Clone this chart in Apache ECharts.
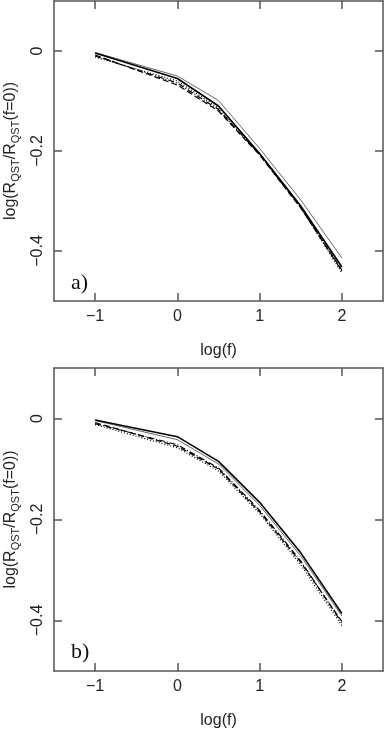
<!DOCTYPE html>
<html>
<head>
  <meta charset="UTF-8">
  <title>log R_QST vs log f</title>
  <script src="https://cdn.jsdelivr.net/npm/echarts@6/dist/echarts.min.js"></script>
  <style>
    html, body { margin: 0; padding: 0; background: #fff; }
  </style>
</head>
<body>
  <div id="chart" style="width: 386px;height:730px;"></div>
  <script type="text/javascript">
    // x positions: log(f)
    const logF = [-1, 0, 0.5, 1, 1.5, 2];
    const xTicks = [-1, 0, 1, 2];
    const yTicks = [-0.4, -0.2, 0];

    // panel a)
    const aThin    = [-0.003, -0.050, -0.099, -0.195, -0.298, -0.414];
    const aThick   = [-0.004, -0.055, -0.110, -0.205, -0.310, -0.432];
    const aDashed  = [-0.008, -0.068, -0.120, -0.208, -0.314, -0.438];
    const aDashDot = [-0.010, -0.064, -0.117, -0.207, -0.313, -0.440];
    const aDotted  = [-0.012, -0.060, -0.114, -0.206, -0.312, -0.444];

    // panel b)
    const bThick   = [-0.003, -0.036, -0.085, -0.166, -0.266, -0.386];
    const bThin    = [-0.004, -0.042, -0.090, -0.172, -0.272, -0.391];
    const bDashed  = [-0.008, -0.055, -0.100, -0.185, -0.285, -0.402];
    const bDashDot = [-0.010, -0.052, -0.098, -0.182, -0.282, -0.405];
    const bDotted  = [-0.012, -0.058, -0.104, -0.188, -0.290, -0.410];

    const font = 'Liberation Sans';
    const axisCol = '#555';
    const minus = v => v === 0 ? '0' : (v < 0 ? '\u2212' + Math.abs(v) : String(v));

    function xAx(grid, pos) {
      const main = pos === 'bottom';
      return {
        type: 'value', gridIndex: grid, position: pos, min: -1.5, max: 2.5,
        name: main ? 'log(f)' : '', nameLocation: 'middle', nameGap: 42,
        nameTextStyle: { fontFamily: font, fontSize: 16, color: '#222' },
        splitLine: { show: false },
        axisLine: { show: true, onZero: false, lineStyle: { color: axisCol, width: 1.5 } },
        axisTick: { show: true, inside: true, length: 8, customValues: xTicks, lineStyle: { color: axisCol, width: 1.5 } },
        axisLabel: { show: main, customValues: xTicks, margin: 8, formatter: minus,
          fontFamily: font, fontSize: 16, color: '#222' }
      };
    }
    function yAx(grid, pos) {
      const main = pos === 'left';
      return {
        type: 'value', gridIndex: grid, position: pos, min: -0.5, max: 0.1,
        name: main ? 'log(R{s|QST}/R{s|QST}(f=0))' : '', nameLocation: 'middle', nameGap: 33,
        nameRotate: 90,
        nameTextStyle: { fontFamily: font, fontSize: 16, color: '#222',
          rich: { s: { fontFamily: font, fontSize: 11, color: '#222', padding: [9, 0, 0, 0] } } },
        splitLine: { show: false },
        axisLine: { show: true, onZero: false, lineStyle: { color: axisCol, width: 1.5 } },
        axisTick: { show: true, inside: true, length: 8, customValues: yTicks, lineStyle: { color: axisCol, width: 1.5 } },
        axisLabel: { show: main, customValues: yTicks, rotate: 90, margin: 8, formatter: minus,
          fontFamily: font, fontSize: 16, color: '#222' }
      };
    }

    const styles = [
      { width: 1, color: '#666', type: 'solid' },       // thin
      { width: 1.6, color: '#000', type: 'solid' },     // thick
      { width: 1.2, color: '#000', type: [6, 3] },      // dashed
      { width: 1.2, color: '#000', type: [6, 2, 1, 2] },// dash-dot
      { width: 1.2, color: '#000', type: [1, 2] }       // dotted
    ];
    function line(grid, vals, st) {
      return {
        type: 'line', xAxisIndex: grid * 2, yAxisIndex: grid * 2, symbol: 'none',
        data: logF.map((x, i) => [x, vals[i]]), silent: true, animation: false,
        lineStyle: { width: st.width, color: st.color, type: st.type }
      };
    }

    const chart = echarts.init(document.getElementById('chart'));
    chart.setOption({
      backgroundColor: '#fff',
      animation: false,
      grid: [
        { left: 54, top: 1, width: 329, height: 300, outerBoundsMode: 'none', containLabel: false },
        { left: 54, top: 368, width: 329, height: 303, outerBoundsMode: 'none', containLabel: false }
      ],
      xAxis: [xAx(0, 'bottom'), xAx(0, 'top'), xAx(1, 'bottom'), xAx(1, 'top')],
      yAxis: [yAx(0, 'left'), yAx(0, 'right'), yAx(1, 'left'), yAx(1, 'right')],
      graphic: [
        { type: 'text', left: 71, top: 272, style: { text: 'a)', fontFamily: 'Liberation Serif', fontSize: 22, fill: '#111' } },
        { type: 'text', left: 71, top: 641, style: { text: 'b)', fontFamily: 'Liberation Serif', fontSize: 22, fill: '#111' } }
      ],
      series: [
        line(0, aThin, styles[0]),
        line(0, aThick, styles[1]),
        line(0, aDashed, styles[2]),
        line(0, aDashDot, styles[3]),
        line(0, aDotted, styles[4]),
        line(1, bThin, styles[0]),
        line(1, bThick, styles[1]),
        line(1, bDashed, styles[2]),
        line(1, bDashDot, styles[3]),
        line(1, bDotted, styles[4])
      ]
    });
  </script>
</body>
</html>
